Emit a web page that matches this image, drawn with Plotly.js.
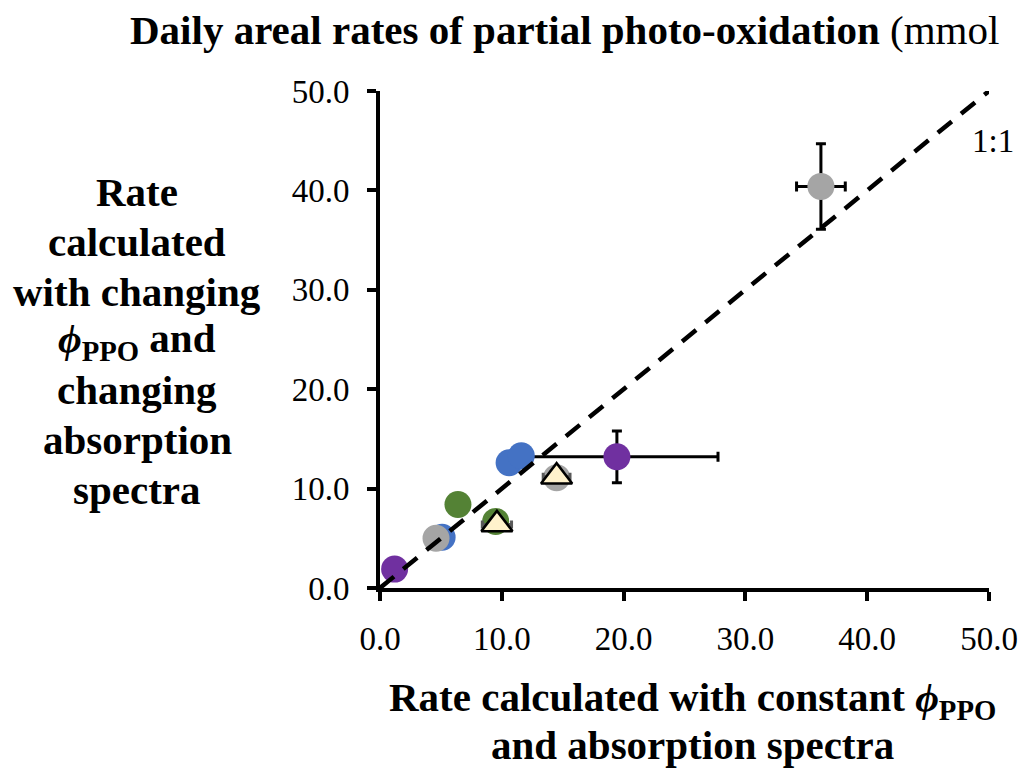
<!DOCTYPE html>
<html>
<head>
<meta charset="utf-8">
<script src="https://cdn.plot.ly/plotly-3.0.1.min.js"></script>
<style>
html,body{margin:0;padding:0;background:#fff;}
#chart{width:1021px;height:768px;}
</style>
</head>
<body>
<div id="chart"></div>
<script>
// ---- data ----
const purpleX = [1.2, 19.45];
const purpleY = [1.9, 13.2];
const purpleErrX = [0, 8.3];
const purpleErrY = [0, 2.6];

const blueX = [5.1, 10.6, 11.6];
const blueY = [5.1, 12.6, 13.3];

const grayX = [4.6, 14.5, 36.2];
const grayY = [5.0, 11.1, 40.4];
const grayErrX = [0, 0, 2.0];
const grayErrY = [0, 0, 4.3];

const greenX = [6.4, 9.5];
const greenY = [8.4, 6.7];

const triX = [9.6, 14.5];
const triY = [6.4, 11.2];
const triErrX = [1.2, 1.1];

const oneToOneX = [0, 50];
const oneToOneY = [0, 50];

const tickVals = [0, 10, 20, 30, 40, 50];
const tickText = ["0.0", "10.0", "20.0", "30.0", "40.0", "50.0"];

const titleText = "<b>Daily areal rates of partial photo-oxidation</b> (mmol";
const xTitleLines = ["<b>Rate calculated with constant <i>ϕ</i><sub>PPO</sub></b>", "<b>and absorption spectra</b>"];
const yTitleLines = ["<b>Rate</b>", "<b>calculated</b>", "<b>with changing</b>", "<b><i>ϕ</i><sub>PPO</sub> and</b>", "<b>changing</b>", "<b>absorption</b>", "<b>spectra</b>"];
const lineLabel = "1:1";

// ---- layout geometry ----
const W = 1021, H = 768, L = 380, R = 32, T = 91, B = 180;
const pw = W - L - R, ph = H - T - B;
const px = x => (x - L) / pw;
const py = y => (H - B - y) / ph;
const FONT = "Liberation Serif, Times New Roman, serif";

const mk = (color, size) => ({color: color, size: size, line: {width: 0}});

const traces = [
  {x: purpleX, y: purpleY, type: 'scatter', mode: 'markers', marker: mk('#7030A0', 27),
   error_x: {type: 'data', array: purpleErrX, visible: true, color: '#000', thickness: 3, width: 5},
   error_y: {type: 'data', array: purpleErrY, visible: true, color: '#000', thickness: 3, width: 5}},
  {x: blueX, y: blueY, type: 'scatter', mode: 'markers', marker: mk('#4472C4', 27)},
  {x: grayX, y: grayY, type: 'scatter', mode: 'markers', marker: mk('#A5A5A5', 27),
   error_x: {type: 'data', array: grayErrX, visible: true, color: '#000', thickness: 3, width: 5},
   error_y: {type: 'data', array: grayErrY, visible: true, color: '#000', thickness: 3, width: 5}},
  {x: greenX, y: greenY, type: 'scatter', mode: 'markers', marker: mk('#548235', 27)},
  {x: triX, y: triY, type: 'scatter', mode: 'markers',
   marker: {symbol: 'triangle-up', color: '#FFF2CC', size: 27, line: {color: '#000', width: 2.5}},
   error_x: {type: 'data', array: triErrX, visible: true, color: '#595959', thickness: 3, width: 4}},
  {x: oneToOneX, y: oneToOneY, type: 'scatter', mode: 'lines',
   line: {color: '#000', width: 4.5, dash: '18px,12px'}}
];

const annotations = [];
annotations.push({text: titleText, xref: 'paper', yref: 'paper', x: px(128), y: py(30),
  xanchor: 'left', yanchor: 'middle', showarrow: false, font: {family: FONT, size: 41, color: '#000'}});
const xLineY = [700, 745];
xTitleLines.forEach((t, i) => annotations.push({text: t, xref: 'paper', yref: 'paper', x: px(692), y: py(xLineY[i]),
  xanchor: 'center', yanchor: 'middle', showarrow: false, font: {family: FONT, size: 41, color: '#000'}}));
const yLineY = [192, 242, 292, 341, 390, 440, 490];
yTitleLines.forEach((t, i) => annotations.push({text: t, xref: 'paper', yref: 'paper', x: px(137), y: py(yLineY[i]),
  xanchor: 'center', yanchor: 'middle', showarrow: false, font: {family: FONT, size: 41, color: '#000'}}));
annotations.push({text: lineLabel, xref: 'paper', yref: 'paper', x: px(1016), y: py(141),
  xanchor: 'right', yanchor: 'middle', showarrow: false, font: {family: FONT, size: 33, color: '#000'}});

const axisCommon = {
  range: [0, 50], tickvals: tickVals, ticktext: tickText, showgrid: false, zeroline: false,
  showline: true, linecolor: '#000', linewidth: 4, ticks: 'outside', ticklen: 9, tickwidth: 4, tickcolor: '#000',
  tickfont: {family: FONT, size: 33, color: '#000'}, fixedrange: true
};

const layout = {
  width: W, height: H, margin: {l: L, r: R, t: T, b: B, pad: 0},
  paper_bgcolor: '#fff', plot_bgcolor: '#fff', showlegend: false,
  xaxis: Object.assign({}, axisCommon, {ticklabelstandoff: 9}),
  yaxis: Object.assign({}, axisCommon, {ticklabelstandoff: 11}),
  annotations: annotations
};

traces.forEach(t => { t.cliponaxis = false; t.hoverinfo = 'skip'; });
Plotly.newPlot('chart', traces, layout, {displayModeBar: false, staticPlot: true});
</script>
</body>
</html>
